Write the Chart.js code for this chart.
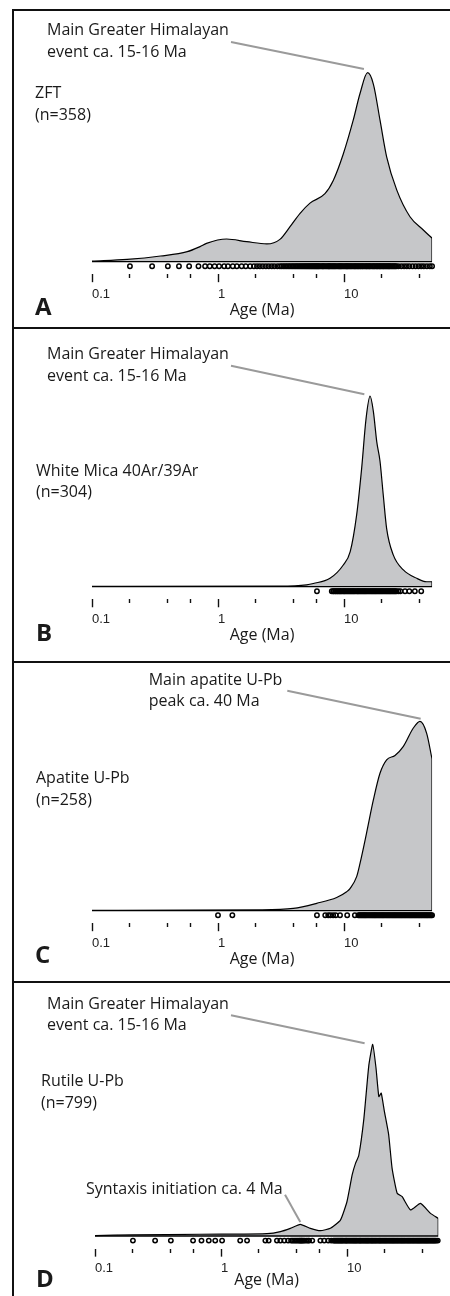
<!DOCTYPE html>
<html>
<head>
<meta charset="utf-8">
<script src="https://cdn.jsdelivr.net/npm/chart.js@4.4.0/dist/chart.umd.min.js"></script>
<style>
  html, body { margin: 0; padding: 0; background: #fff; }
  body { width: 450px; height: 1296px; position: relative; overflow: hidden; }
  .frame { position: absolute; left: 12px; width: 438px; border-top: 2px solid #111; border-left: 2px solid #111; box-sizing: border-box; }
  canvas { position: absolute; left: 0; }
</style>
</head>
<body>
<div class="frame" style="top:9px;height:318px"></div>
<div class="frame" style="top:327px;height:334px"></div>
<div class="frame" style="top:661px;height:320px"></div>
<div class="frame" style="top:981px;height:315px"></div>
<canvas id="chartA" width="450" height="316" style="top:11px"></canvas>
<canvas id="chartB" width="450" height="332" style="top:329px"></canvas>
<canvas id="chartC" width="450" height="318" style="top:663px"></canvas>
<canvas id="chartD" width="450" height="313" style="top:983px"></canvas>
<script>
// === Axe des âges (Ma) ===
const TICK_VALUES = [0.1, 0.2, 0.4, 0.6, 1, 2, 4, 6, 10, 20, 40];
const TICK_LABELS = ['0.1', '', '', '', '1', '', '', '', '10', '', ''];

// === A : ZFT (densité relative, pic = 1) ===
const zftAges    = [0.1, 0.19, 0.35, 0.57, 0.72, 0.81, 1.17, 1.69, 2.44, 3.1, 3.73, 4.48, 5.37, 7.06, 8.22, 9.87, 11.85, 13.4, 15.4, 17.1, 19.3, 21.8, 26.2, 33.4, 42.6, 50];
const zftDensity = [0.003, 0.012, 0.03, 0.053, 0.08, 0.097, 0.12, 0.106, 0.094, 0.118, 0.185, 0.256, 0.31, 0.36, 0.43, 0.57, 0.75, 0.89, 1.0, 0.94, 0.75, 0.555, 0.38, 0.238, 0.168, 0.124];
const zftGrains  = [0.2, 0.3, 0.4, 0.49, 0.59, 0.7, 0.79, 0.86, 0.94, 1.02, 1.12, 1.2, 1.31, 1.41, 1.54, 1.66, 1.8, 1.93, 2.04, 2.15, 2.27, 2.4, 2.53, 2.67, 2.8, 2.96, 3.1, 3.2, 3.3, 3.4, 3.5, 3.6, 3.7, 3.8, 3.9, 4.0, 4.1, 4.2, 4.3, 4.4, 4.5, 4.6, 4.7, 4.8, 4.9, 5.0, 5.1, 5.2, 5.3, 5.4, 5.5, 5.6, 5.7, 5.8, 5.9, 6.0, 6.1, 6.2, 6.3, 6.4, 6.55, 6.7, 6.8, 6.9, 7.05, 7.2, 7.35, 7.5, 7.6, 7.7, 7.85, 8.0, 8.15, 8.3, 8.45, 8.6, 8.8, 9.0, 9.15, 9.3, 9.45, 9.6, 9.8, 10, 10.2, 10.4, 10.55, 10.7, 10.9, 11.1, 11.3, 11.5, 11.75, 12, 12.2, 12.4, 12.65, 12.9, 13.1, 13.4, 13.6, 13.9, 14.1, 14.4, 14.7, 15, 15.2, 15.5, 15.8, 16, 16.3, 16.7, 17, 17.3, 17.6, 18, 18.3, 18.6, 19, 19.3, 19.6, 20, 20.4, 20.7, 21.1, 21.5, 21.9, 22.3, 22.7, 23, 23.5, 24, 24.5, 25, 25.5, 26, 27, 28.5, 30, 31.5, 33, 35, 37, 39, 41, 43, 45.5, 48, 50];

// === B : Mica blanc 40Ar/39Ar ===
const micaAges    = [0.1, 3.1, 5.06, 5.71, 7.74, 9.87, 11.2, 12.6, 13.8, 14.95, 16.1, 17.1, 18.2, 19.3, 20.5, 21.8, 24.6, 29.6, 37.8, 45.3, 50];
const micaDensity = [0.002, 0.003, 0.01, 0.017, 0.044, 0.114, 0.184, 0.377, 0.62, 0.88, 1.0, 0.92, 0.76, 0.66, 0.48, 0.305, 0.167, 0.088, 0.044, 0.026, 0.026];
const micaGrains  = [6.1, 8.0, 8.2, 8.3, 8.5, 8.6, 8.8, 8.9, 9.1, 9.2, 9.4, 9.5, 9.7, 9.9, 10.05, 10.2, 10.4, 10.6, 10.8, 11, 11.2, 11.4, 11.6, 11.8, 12, 12.2, 12.45, 12.7, 12.9, 13.1, 13.35, 13.6, 13.85, 14.1, 14.35, 14.6, 14.85, 15.1, 15.4, 15.7, 16, 16.3, 16.6, 16.9, 17.2, 17.5, 17.8, 18.1, 18.45, 18.8, 19.15, 19.5, 19.85, 20.2, 20.6, 21, 21.4, 21.8, 22.2, 22.6, 23, 23.4, 23.8, 24.3, 24.7, 25.2, 25.6, 26.1, 27, 28, 30.5, 33, 36.5, 41];

// === C : Apatite U-Pb ===
const apatiteAges    = [0.1, 2.15, 3.96, 6.07, 8.75, 10.5, 11.2, 12.6, 13.4, 15.1, 17.1, 19.3, 21.8, 25.4, 29.6, 35.5, 40.1, 45.3, 50];
const apatiteDensity = [0.002, 0.004, 0.012, 0.039, 0.07, 0.1, 0.118, 0.18, 0.25, 0.41, 0.585, 0.726, 0.797, 0.82, 0.868, 0.965, 1.0, 0.937, 0.8];
const apatiteGrains  = [1.0, 1.3, 6.1, 7.1, 7.5, 7.8, 8.2, 8.6, 9.3, 10.6, 12.2, 13, 13.25, 13.5, 13.75, 14, 14.25, 14.5, 14.75, 15, 15.3, 15.6, 15.9, 16.2, 16.5, 16.8, 17.1, 17.4, 17.7, 18, 18.35, 18.7, 19.05, 19.4, 19.75, 20.1, 20.45, 20.8, 21.2, 21.6, 22, 22.4, 22.8, 23.2, 23.65, 24.1, 24.55, 25, 25.45, 25.9, 26.4, 26.9, 27.4, 27.9, 28.4, 28.9, 29.45, 30, 30.55, 31.1, 31.7, 32.3, 32.9, 33.5, 34.1, 34.7, 35.35, 36, 36.65, 37.3, 38, 38.7, 39.4, 40.1, 40.85, 41.6, 42.4, 43.2, 44, 44.8, 45.6, 46.4, 47.3, 48.2, 49.1, 50];

// === D : Rutile U-Pb ===
const rutileAges    = [0.1, 0.2, 0.68, 1.5, 2.32, 2.96, 3.55, 4.26, 5.12, 6.15, 7.38, 8.87, 10.0, 11.0, 11.7, 12.4, 13.6, 14.9, 16.0, 17.0, 17.9, 18.7, 19.8, 21.4, 22.8, 25.0, 27.4, 31.9, 38.3, 46.0, 53];
const rutileDensity = [0.002, 0.006, 0.009, 0.01, 0.012, 0.023, 0.04, 0.061, 0.04, 0.028, 0.04, 0.083, 0.18, 0.32, 0.38, 0.42, 0.61, 0.89, 1.0, 0.875, 0.727, 0.745, 0.65, 0.53, 0.353, 0.223, 0.205, 0.136, 0.17, 0.118, 0.092];
const rutileGrains  = [0.2, 0.3, 0.4, 0.6, 0.7, 0.8, 0.9, 1.02, 1.42, 1.61, 2.25, 2.39, 2.78, 2.96, 3.18, 3.41, 3.6, 3.7, 3.8, 3.9, 4.0, 4.1, 4.2, 4.26, 4.35, 4.4, 4.5, 4.6, 4.75, 4.9, 5.0, 5.3, 6.15, 6.6, 7.1, 7.5, 7.8, 7.95, 8.1, 8.25, 8.4, 8.55, 8.7, 8.85, 9.0, 9.15, 9.3, 9.5, 9.7, 9.85, 10, 10.2, 10.4, 10.6, 10.8, 11, 11.2, 11.4, 11.6, 11.8, 12, 12.25, 12.5, 12.7, 12.9, 13.15, 13.4, 13.65, 13.9, 14.15, 14.4, 14.65, 14.9, 15.2, 15.5, 15.75, 16, 16.3, 16.6, 16.9, 17.2, 17.55, 17.9, 18.2, 18.5, 18.85, 19.2, 19.55, 19.9, 20.25, 20.6, 21, 21.4, 21.8, 22.2, 22.6, 23, 23.4, 23.8, 24.25, 24.7, 25.15, 25.6, 26.1, 26.6, 27.05, 27.5, 28, 28.5, 29, 29.6, 30.15, 30.7, 31.25, 31.8, 32.4, 33, 33.6, 34.2, 34.85, 35.5, 36.15, 36.8, 37.45, 38.1, 38.8, 39.5, 40.25, 41, 41.75, 42.5, 43.25, 44, 44.85, 45.7, 46.55, 47.4, 48.25, 49.1, 50, 51, 52.5];

// rangée des grains, sous la ligne de base
const GRAIN_ROW = -0.024;
const YMIN = -0.066, YMAX = 1.03;
const DECADE = 126, LINE_GAP = 21.5;
const FILL = '#c6c7c9', INK = '#1a1a1a', LEADER = '#9a9a9a';

// mise en page (coordonnées de la page)
const PANELS = [
    {
        id: 'chartA', top: 11, height: 316, baseline: 261.7, peak: 189, titleY: 310, left: 92, xmax: 50,
        ages: zftAges, density: zftDensity, grains: zftGrains, smooth: 'monotone',
        sample: { lines: ['ZFT', '(n=358)'], x: 35, y: 98 },
        notes: [{ lines: ['Main Greater Himalayan', 'event ca. 15-16 Ma'], x: 47, y: 35, from: [231, 42], to: [14.4, 1.02] }],
        letter: { text: 'A', x: 35, y: 315 }
    },
    {
        id: 'chartB', top: 329, height: 332, baseline: 586.7, peak: 190.5, titleY: 635.7, left: 92, xmax: 50,
        ages: micaAges, density: micaDensity, grains: micaGrains, smooth: 'monotone',
        sample: { lines: ['White Mica 40Ar/39Ar', '(n=304)'], x: 36, y: 475.7 },
        notes: [{ lines: ['Main Greater Himalayan', 'event ca. 15-16 Ma'], x: 47, y: 359, from: [231, 365.7], to: [14.5, 1.01] }],
        letter: { text: 'B', x: 36, y: 640.7 }
    },
    {
        id: 'chartC', top: 663, height: 318, baseline: 910.7, peak: 189.3, titleY: 959.7, left: 92, xmax: 50,
        ages: apatiteAges, density: apatiteDensity, grains: apatiteGrains, smooth: 'monotone',
        sample: { lines: ['Apatite U-Pb', '(n=258)'], x: 36, y: 783 },
        notes: [{ lines: ['Main apatite U-Pb', 'peak ca. 40 Ma'], x: 148.7, y: 684.7, from: [287.3, 690.7], to: [40.6, 1.014] }],
        letter: { text: 'C', x: 35, y: 963 }
    },
    {
        id: 'chartD', top: 983, height: 313, baseline: 1236, peak: 191.7, titleY: 1280, left: 95, xmax: 53,
        ages: rutileAges, density: rutileDensity, grains: rutileGrains, smooth: 0.15,
        sample: { lines: ['Rutile U-Pb', '(n=799)'], x: 41, y: 1086 },
        notes: [
            { lines: ['Main Greater Himalayan', 'event ca. 15-16 Ma'], x: 47, y: 1008.7, from: [231, 1015.3], to: [13.8, 1.005] },
            { lines: ['Syntaxis initiation ca. 4 Ma'], x: 86, y: 1194, from: [285, 1194.7], to: [4.26, 0.073] }
        ],
        letter: { text: 'D', x: 36, y: 1287 }
    }
];

// textes, traits de rappel et lettre du panneau
function makeTextPlugin(p) {
    return {
        id: 'panelText',
        afterDraw(chart) {
            const { ctx, scales: { x, y } } = chart;
            const dy = p.top;
            ctx.save();
            ctx.textAlign = 'left';
            ctx.textBaseline = 'alphabetic';
            ctx.fillStyle = INK;
            ctx.font = "16px 'Open Sans'";
            p.notes.forEach(n => {
                ctx.strokeStyle = LEADER;
                ctx.lineWidth = 2;
                ctx.beginPath();
                ctx.moveTo(n.from[0], n.from[1] - dy);
                ctx.lineTo(x.getPixelForValue(n.to[0]), y.getPixelForValue(n.to[1]));
                ctx.stroke();
                n.lines.forEach((t, i) => ctx.fillText(t, n.x, n.y - dy + i * LINE_GAP));
            });
            p.sample.lines.forEach((t, i) => ctx.fillText(t, p.sample.x, p.sample.y - dy + i * LINE_GAP));
            ctx.font = "bold 24px 'Open Sans'";
            ctx.fillText(p.letter.text, p.letter.x, p.letter.y - dy);
            ctx.restore();
        }
    };
}

PANELS.forEach(p => {
    const chartTop = p.baseline - p.peak * YMAX;
    const chartBottom = p.baseline - p.peak * YMIN;
    const axisBottom = p.titleY + 9.6;
    const axisH = axisBottom - chartBottom;
    const right = p.left + DECADE * Math.log10(p.xmax / 0.1);
    const last = p.density.length - 1;

    const curve = p.ages.map((a, i) => ({ x: a, y: p.density[i] }));
    const outline = [
        { x: 0.1, y: 0 },
        { x: p.ages[last], y: 0 },
        { x: p.ages[last], y: p.density[last] }
    ];
    const grains = p.grains.map(a => ({ x: a, y: GRAIN_ROW }));

    const curveSet = {
        data: curve,
        borderColor: '#000',
        borderWidth: 1.2,
        backgroundColor: FILL,
        fill: 'origin',
        pointRadius: 0
    };
    if (p.smooth === 'monotone') curveSet.cubicInterpolationMode = 'monotone';
    else curveSet.tension = p.smooth;

    new Chart(document.getElementById(p.id), {
        type: 'line',
        data: {
            datasets: [
                { data: outline, borderColor: '#000', borderWidth: 1.3, fill: false, pointRadius: 0, tension: 0 },
                {
                    data: grains, showLine: false, pointRadius: 2.2, pointBorderWidth: 1.5,
                    pointBorderColor: '#000', pointBackgroundColor: 'rgba(0,0,0,0)', clip: false
                },
                curveSet
            ]
        },
        options: {
            responsive: false,
            animation: false,
            events: [],
            layout: {
                padding: {
                    top: chartTop - p.top,
                    bottom: p.top + p.height - axisBottom,
                    left: p.left,
                    right: 450 - right
                }
            },
            plugins: { legend: { display: false }, tooltip: { enabled: false } },
            scales: {
                x: {
                    type: 'logarithmic',
                    min: 0.1,
                    max: p.xmax,
                    afterBuildTicks: s => { s.ticks = TICK_VALUES.map(v => ({ value: v })); },
                    afterFit: s => { s.height = axisH; },
                    border: { display: false },
                    grid: {
                        drawOnChartArea: false,
                        drawTicks: true,
                        tickLength: 8,
                        tickWidth: 1.4,
                        tickColor: '#111',
                        tickBorderDash: ctx => TICK_LABELS[ctx.index] ? [] : [4, 40]
                    },
                    ticks: {
                        autoSkip: false,
                        maxRotation: 0,
                        align: 'start',
                        padding: 4,
                        color: '#222',
                        font: { family: 'Liberation Sans', size: 13 },
                        callback: (v, i) => TICK_LABELS[i]
                    },
                    title: {
                        display: true,
                        text: 'Age (Ma)',
                        color: INK,
                        padding: 0,
                        font: { family: 'Open Sans', size: 16 }
                    }
                },
                y: { type: 'linear', display: false, min: YMIN, max: YMAX }
            }
        },
        plugins: [makeTextPlugin(p)]
    });
});
</script>
</body>
</html>
